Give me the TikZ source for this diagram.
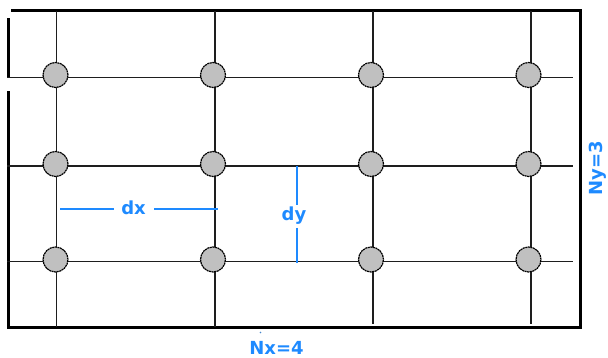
\documentclass[tikz,border=0pt]{standalone}
\usepackage{fontspec}
\setmainfont{DejaVu Sans}
\definecolor{dimblue}{RGB}{30,138,255}
\definecolor{dotgray}{RGB}{192,192,192}
\definecolor{gridblack}{RGB}{30,30,30}
\begin{document}
\begin{tikzpicture}[x=1pt,y=-1pt,
  border/.style={line width=3pt,black},
  gridline/.style={line width=1.5pt,gridblack},
  dot/.style={circle,minimum size=25pt,inner sep=0pt,fill=dotgray,draw=black,line width=1.2pt,dash pattern=on 2pt off 0.6pt},
  dimline/.style={line width=2pt,dimblue},
  dimtext/.style={text=dimblue,font=\bfseries\fontsize{18}{20}\selectfont,inner sep=0pt,anchor=base}]
\useasboundingbox (0,0) rectangle (608,358);
% frame
\coordinate (tl) at (11,11);
\coordinate (tr) at (580.5,11);
\coordinate (br) at (580.5,327);
\coordinate (bl) at (8.5,327);
\coordinate (l1) at (8.5,18);
\coordinate (l2) at (8.5,77);
\coordinate (l3) at (8.5,91);
\draw[border] (tl) -- (tr) -- (br) -- (bl) -- (l3);
\draw[border] (l2) -- (l1);
% vertical grid lines
\foreach \x/\e [count=\i] in {56.5/327,215/327,373/324,531/324}{
  \coordinate (vt\i) at (\x,11);
  \coordinate (vb\i) at (\x,\e);
  \draw[gridline] (vt\i) -- (vb\i);
}
% horizontal grid lines
\foreach \y [count=\j] in {77.5,166,261.5}{
  \coordinate (hl\j) at (7,\y);
  \coordinate (hr\j) at (573,\y);
  \draw[gridline] (hl\j) -- (hr\j);
}
% grid points
\foreach \x [count=\i] in {55.5,213,371,528.5}{
  \foreach \y [count=\j] in {75,164,259.5}{
    \node[dot] (c\i\j) at (\x,\y) {};
  }
}
% dx dimension
\node[dimtext] (dx) at (133.5,215) {dx};
\coordinate (dxl) at (60,209);
\coordinate (dxa) at (114,209);
\coordinate (dxb) at (154,209);
\coordinate (dxr) at (217.5,209);
\draw[dimline] (dxl) -- (dxa);
\draw[dimline] (dxb) -- (dxr);
% dy dimension
\node[dimtext] (dy) at (294,220.5) {dy};
\coordinate (dyt) at (297,166);
\coordinate (dyt2) at (297,205);
\coordinate (dyb2) at (297,228);
\coordinate (dyb) at (297,263);
\draw[dimline] (dyt) -- (dyt2);
\draw[dimline] (dyb2) -- (dyb);
% counts
\node[dimtext] (nx) at (276.5,354) {Nx=4};
\node[dimtext,rotate=90] (ny) at (602.5,168.5) {Ny=3};
\fill[dimblue!60!gray] (260.5,332.5) circle (0.8pt);
\end{tikzpicture}
\end{document}
